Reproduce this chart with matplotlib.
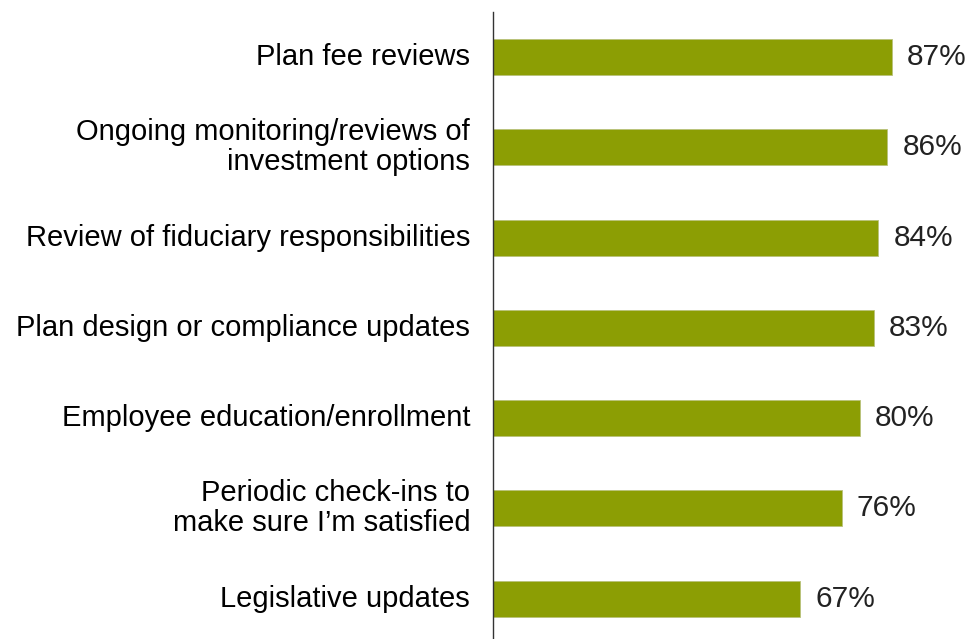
import matplotlib
matplotlib.use("Agg")
import matplotlib.pyplot as plt

categories = [
    "Plan fee reviews",
    "Ongoing monitoring/reviews of\ninvestment options",
    "Review of fiduciary responsibilities",
    "Plan design or compliance updates",
    "Employee education/enrollment",
    "Periodic check-ins to\nmake sure I\u2019m satisfied",
    "Legislative updates",
]
values = [87, 86, 84, 83, 80, 76, 67]
value_labels = ["87%", "86%", "84%", "83%", "80%", "76%", "67%"]

plt.rcParams["font.family"] = ["Liberation Sans", "DejaVu Sans"]

W, H = 973, 639
fig = plt.figure(figsize=(W / 100, H / 100), dpi=100)
fig.patch.set_facecolor("white")

left_px, top_px = 492.7, 12
bottom_px = 643.7
px_per_unit = 4.59
ax = fig.add_axes([left_px / W, 1 - bottom_px / H,
                   100 * px_per_unit / W, (bottom_px - top_px) / H])

pos = list(range(len(categories)))
ax.barh(pos, values, height=0.4, color="#8C9E04",
        edgecolor="#B9C27A", linewidth=0.6, zorder=2)

ax.set_xlim(0, 100)
ax.set_ylim(len(categories) - 0.5, -0.5)

for p, v, lab in zip(pos, values, value_labels):
    ax.text(v + 3.3, p, lab, va="center", ha="left", fontsize=21.5,
            color="#222222", clip_on=False)

for p, cat in zip(pos, categories):
    ax.text(-4.9, p, cat, va="center", ha="right", fontsize=21,
            color="black", linespacing=1.1, multialignment="right",
            clip_on=False)

for side in ["top", "right", "bottom"]:
    ax.spines[side].set_visible(False)
ax.spines["left"].set_color("#333333")
ax.spines["left"].set_linewidth(1.0)
ax.set_xticks([])
ax.set_yticks([])
ax.patch.set_alpha(0)

fig.savefig("out.png", dpi=100)
